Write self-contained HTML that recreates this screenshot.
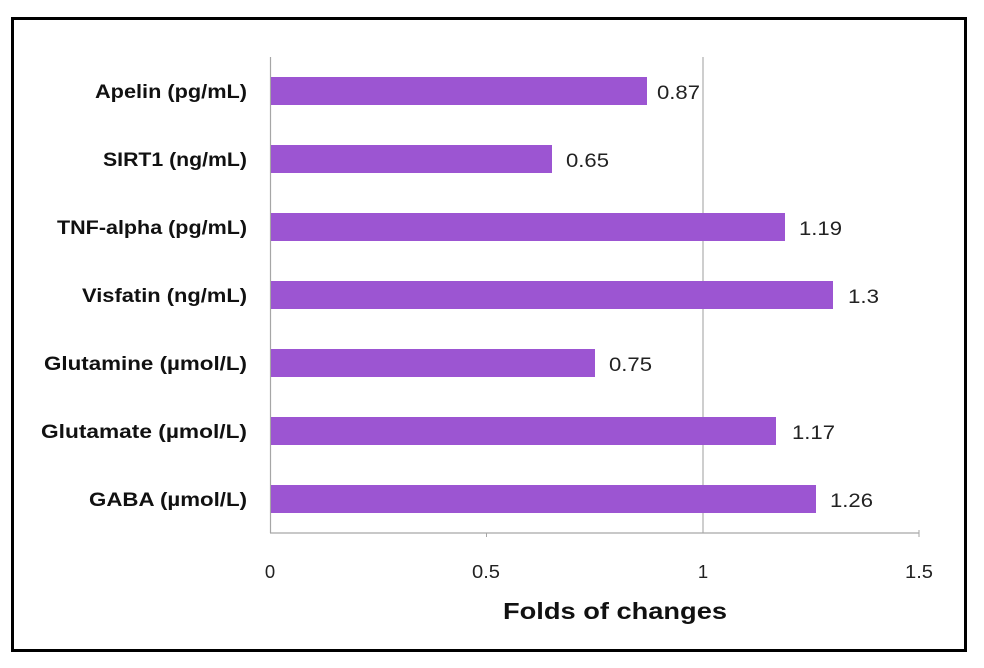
<!DOCTYPE html>
<html><head><meta charset="utf-8"><style>
body{margin:0;background:#fff;}
</style></head><body>
<svg width="984" height="668" xmlns="http://www.w3.org/2000/svg" style="display:block">
<rect x="0" y="0" width="984" height="668" fill="#fff"/>
<rect x="12.5" y="18.5" width="953" height="632" fill="none" stroke="#000" stroke-width="3"/>
<line x1="703" y1="57" x2="703" y2="533" stroke="#bdbdbd" stroke-width="1.5"/>
<line x1="270.5" y1="57" x2="270.5" y2="533" stroke="#a6a6a6" stroke-width="1.2"/>
<line x1="270" y1="533" x2="919" y2="533" stroke="#a6a6a6" stroke-width="1.2"/>
<g stroke="#a6a6a6"><line x1="486.5" y1="533" x2="486.5" y2="537"/><line x1="919" y1="530" x2="919" y2="537"/></g>
<g fill="#9c55d2">
<rect x="271" y="77" width="376" height="28"/>
<rect x="271" y="145" width="281" height="28"/>
<rect x="271" y="213" width="514" height="28"/>
<rect x="271" y="281" width="562" height="28"/>
<rect x="271" y="349" width="324" height="28"/>
<rect x="271" y="417" width="505" height="28"/>
<rect x="271" y="485" width="545" height="28"/>
</g>
<g font-family="Liberation Sans, sans-serif" font-weight="bold" font-size="19" fill="#111" lengthAdjust="spacingAndGlyphs">
<text x="95" y="98" textLength="152" lengthAdjust="spacingAndGlyphs">Apelin (pg/mL)</text>
<text x="103" y="166" textLength="144" lengthAdjust="spacingAndGlyphs">SIRT1 (ng/mL)</text>
<text x="57" y="234" textLength="190" lengthAdjust="spacingAndGlyphs">TNF-alpha (pg/mL)</text>
<text x="82" y="302" textLength="165" lengthAdjust="spacingAndGlyphs">Visfatin (ng/mL)</text>
<text x="44" y="370" textLength="203" lengthAdjust="spacingAndGlyphs">Glutamine (µmol/L)</text>
<text x="41" y="438" textLength="206" lengthAdjust="spacingAndGlyphs">Glutamate (µmol/L)</text>
<text x="89" y="506" textLength="158" lengthAdjust="spacingAndGlyphs">GABA (µmol/L)</text>
</g>
<g font-family="Liberation Sans, sans-serif" font-size="19" fill="#222">
<text x="657" y="99" textLength="43" lengthAdjust="spacingAndGlyphs">0.87</text>
<text x="566" y="167" textLength="43" lengthAdjust="spacingAndGlyphs">0.65</text>
<text x="799" y="235" textLength="43" lengthAdjust="spacingAndGlyphs">1.19</text>
<text x="848" y="303" textLength="31" lengthAdjust="spacingAndGlyphs">1.3</text>
<text x="609" y="371" textLength="43" lengthAdjust="spacingAndGlyphs">0.75</text>
<text x="792" y="439" textLength="43" lengthAdjust="spacingAndGlyphs">1.17</text>
<text x="830" y="507" textLength="43" lengthAdjust="spacingAndGlyphs">1.26</text>
</g>
<g font-family="Liberation Sans, sans-serif" font-size="18.5" fill="#222" text-anchor="middle">
<text x="270" y="578">0</text>
<text x="486" y="578" textLength="28" lengthAdjust="spacingAndGlyphs">0.5</text>
<text x="703" y="578">1</text>
<text x="919" y="578" textLength="28" lengthAdjust="spacingAndGlyphs">1.5</text>
</g>
<text x="503" y="619" font-family="Liberation Sans, sans-serif" font-weight="bold" font-size="23" fill="#111" textLength="224" lengthAdjust="spacingAndGlyphs">Folds of changes</text>
</svg>
</body></html>
